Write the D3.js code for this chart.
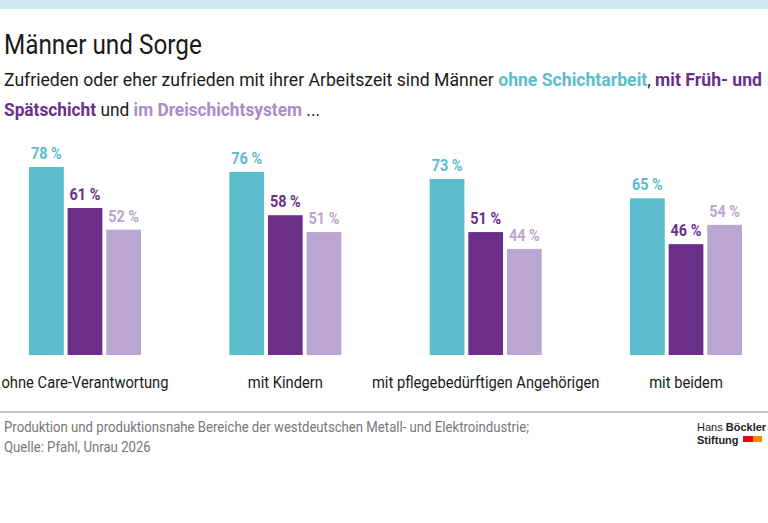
<!DOCTYPE html>
<html><head><meta charset="utf-8">
<script src="https://cdn.jsdelivr.net/npm/d3@7"></script>
<style>body{margin:0;background:#fff}svg{font-family:"Liberation Sans Narrow","Roboto",sans-serif}</style>
</head><body><svg id="c" width="768" height="523"></svg>
<script>
const groups = ['ohne Care-Verantwortung', 'mit Kindern', 'mit pflegebedürftigen Angehörigen', 'mit beidem']
const series = ['ohne Schichtarbeit', 'mit Früh- und Spätschicht', 'im Dreischichtsystem']
const colors = ['#5bbccc', '#6b2f8a', '#bba6d1']
const ohne = [78, 76, 73, 65]
const fruehSpaet = [61, 58, 51, 46]
const drei = [52, 51, 44, 54]
const values = [ohne, fruehSpaet, drei]

// Roboto statt schmaler Schrift: Texte horizontal stauchen
function condense(sel, f) {
  sel.each(function () {
    const len = this.getComputedTextLength()
    d3.select(this).attr('textLength', len * f).attr('lengthAdjust', 'spacingAndGlyphs')
  })
  return sel
}

const svg = d3.select('#c')
svg.append('rect').attr('width', 768).attr('height', 9).attr('fill', '#cfe6ee')
condense(svg.append('text').attr('x', 4).attr('y', 54).attr('font-size', 27).attr('fill', '#1a1a1a').text('Männer und Sorge'), 0.9)

const sub1 = svg.append('text').attr('x', 4).attr('y', 86).attr('font-size', 18).attr('fill', '#1a1a1a')
sub1.append('tspan').text('Zufrieden oder eher zufrieden mit ihrer Arbeitszeit sind Männer ')
sub1.append('tspan').attr('fill', colors[0]).attr('font-weight', 'bold').text('ohne Schichtarbeit')
sub1.append('tspan').text(', ')
sub1.append('tspan').attr('fill', colors[1]).attr('font-weight', 'bold').text('mit Früh- und')
sub1.attr('textLength', 758).attr('lengthAdjust', 'spacingAndGlyphs')
const sub2 = svg.append('text').attr('x', 4).attr('y', 116).attr('font-size', 18).attr('fill', '#1a1a1a')
sub2.append('tspan').attr('fill', colors[1]).attr('font-weight', 'bold').text('Spätschicht')
sub2.append('tspan').text(' und ')
sub2.append('tspan').attr('fill', '#a98bc8').attr('font-weight', 'bold').text('im Dreischichtsystem')
sub2.append('tspan').text(' ...')
sub2.attr('textLength', 316).attr('lengthAdjust', 'spacingAndGlyphs')

const x0 = d3.scalePoint().domain(groups).range([85, 686])
const x1 = d3.scaleBand().domain(series).range([-56, 56]).paddingInner(0.1)
const y = d3.scaleLinear().domain([0, 100]).range([355, 114])

groups.forEach((g, gi) => {
  series.forEach((s, si) => {
    const v = values[si][gi]
    const bx = x0(g) + x1(s)
    svg.append('rect').attr('x', bx).attr('y', y(v)).attr('width', x1.bandwidth())
      .attr('height', y(0) - y(v)).attr('fill', colors[si])
    condense(svg.append('text').attr('x', bx + x1.bandwidth() / 2).attr('y', y(v) - 8)
      .attr('text-anchor', 'middle').attr('font-size', 16).attr('font-weight', 'bold')
      .attr('fill', colors[si]).text(v + ' %'), 0.9)
  })
  condense(svg.append('text').attr('x', x0(g)).attr('y', 388).attr('text-anchor', 'middle')
    .attr('font-size', 16).attr('fill', '#1a1a1a').text(g), 0.92)
})

svg.append('line').attr('x1', 0).attr('x2', 768).attr('y1', 412).attr('y2', 412).attr('stroke', '#888')
condense(svg.append('text').attr('x', 4).attr('y', 432).attr('font-size', 14).attr('fill', '#777')
  .text('Produktion und produktionsnahe Bereiche der westdeutschen Metall- und Elektroindustrie;'), 0.94)
condense(svg.append('text').attr('x', 4).attr('y', 452).attr('font-size', 14).attr('fill', '#777')
  .text('Quelle: Pfahl, Unrau 2026'), 0.94)

const logo = svg.append('g').attr('font-family', 'Liberation Sans, Arial, sans-serif').attr('font-size', 11).attr('fill', '#222')
const l1 = logo.append('text').attr('x', 697).attr('y', 431)
l1.append('tspan').text('Hans ')
l1.append('tspan').attr('font-weight', 'bold').text('Böckler')
logo.append('text').attr('x', 697).attr('y', 444).attr('font-weight', 'bold').text('Stiftung')
logo.append('rect').attr('x', 743).attr('y', 436).attr('width', 10).attr('height', 6).attr('fill', '#e30613')
logo.append('rect').attr('x', 753).attr('y', 436).attr('width', 9).attr('height', 6).attr('fill', '#f08a00')
</script></body></html>
